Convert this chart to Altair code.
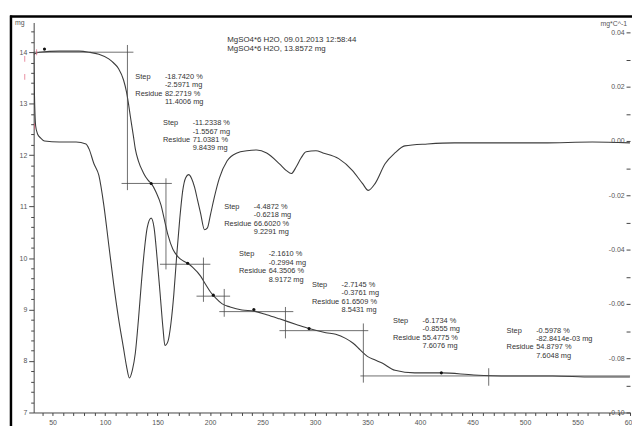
import altair as alt
import pandas as pd

# ---------------- data ----------------
# TG curve: mass (mg) against temperature (deg C)
tg_temp = [32.0, 37.6, 56.4, 75.2, 84.7, 94.1, 103.5, 108.2, 112.9, 117.6, 120.4, 122.3, 124.1, 127.0,
           128.8, 131.7, 136.4, 141.1, 143.9, 148.6, 153.3, 157.0, 159.9, 164.6, 169.3, 174.0, 178.7,
           183.5, 191.0, 195.7, 200.4, 205.0, 211.6, 219.1, 230.4, 241.7, 253.9, 266.1, 282.1, 294.3,
           310.3, 319.7, 329.1, 336.6, 343.2, 349.8, 357.3, 363.9, 376.1, 394.9, 420.3, 451.3, 488.9,
           526.5, 564.2, 599.9]
tg_mass = [13.96, 14.00, 14.02, 14.02, 14.00, 13.96, 13.87, 13.79, 13.68, 13.46, 13.23, 13.00, 12.75,
           12.37, 12.12, 11.89, 11.66, 11.51, 11.45, 11.28, 11.03, 10.70, 10.45, 10.17, 10.03, 9.95,
           9.90, 9.82, 9.65, 9.49, 9.34, 9.23, 9.11, 9.05, 8.99, 8.97, 8.90, 8.82, 8.71, 8.63, 8.55,
           8.52, 8.44, 8.34, 8.21, 8.09, 8.02, 7.96, 7.82, 7.77, 7.77, 7.73, 7.71, 7.71, 7.69, 7.69]

# DTG curve: mg/deg C against temperature
dtg_temp = [32.0, 32.9, 33.9, 35.8, 38.6, 42.3, 56.4, 72.4, 81.8, 84.7, 89.4, 94.1, 98.8, 103.5, 108.2,
            112.9, 117.6, 120.4, 123.2, 126.0, 128.8, 131.7, 134.5, 137.3, 140.1, 143.9, 146.7, 149.5,
            152.3, 155.2, 157.0, 159.9, 162.7, 165.5, 168.3, 171.2, 174.0, 176.8, 179.6, 182.4, 185.3,
            188.1, 190.9, 194.7, 197.5, 200.3, 204.1, 208.8, 216.3, 225.7, 235.1, 244.5, 253.9, 266.1,
            272.7, 277.4, 282.1, 286.8, 291.5, 300.9, 307.5, 322.5, 335.7, 345.1, 350.7, 357.3, 366.7,
            376.1, 385.5, 407.1, 432.7, 470.1, 517.1, 564.2, 599.9]
dtg_rate = [0.0327, 0.0145, 0.0055, 0.0025, 0.0011, 0.0000, -0.0004, -0.0004, -0.0011, -0.0029, -0.0084,
            -0.0127, -0.0236, -0.0382, -0.0527, -0.0655, -0.0764, -0.0829, -0.0873, -0.0844, -0.0782,
            -0.0662, -0.0527, -0.0407, -0.0320, -0.0284, -0.0320, -0.0429, -0.0556, -0.0691, -0.0753,
            -0.0738, -0.0673, -0.0564, -0.0418, -0.0284, -0.0182, -0.0135, -0.0124, -0.0138, -0.0171,
            -0.0218, -0.0265, -0.0327, -0.0320, -0.0273, -0.0207, -0.0138, -0.0073, -0.0044, -0.0036,
            -0.0033, -0.0044, -0.0084, -0.0109, -0.0120, -0.0095, -0.0062, -0.0040, -0.0036, -0.0044,
            -0.0065, -0.0109, -0.0156, -0.0182, -0.0156, -0.0084, -0.0044, -0.0018, -0.0011, -0.0007,
            -0.0007, -0.0007, -0.0004, -0.0007]

# step evaluation construction lines (temperature, mg)
seg_t1 = [32.0, 121.3, 115.7, 158.0, 152.3, 193.7, 187.1, 213.5, 208.8, 271.8, 266.1, 346.0, 343.2, 465.4]
seg_m1 = [14.00, 14.14, 11.45, 11.55, 9.88, 10.01, 9.26, 9.40, 8.96, 9.05, 8.59, 8.73, 7.71, 7.86]
seg_t2 = [127.0, 121.3, 163.6, 158.0, 200.3, 193.7, 219.1, 213.5, 279.3, 271.8, 350.7, 346.0, 600.0, 465.4]
seg_m2 = [14.00, 11.32, 11.45, 9.78, 9.88, 9.15, 9.26, 8.86, 8.96, 8.44, 8.59, 7.58, 7.71, 7.52]

# step mid-point markers on the TG curve
mark_temp = [42.3, 143.9, 178.7, 203.1, 241.7, 294.3, 420.3]
mark_mass = [14.06, 11.45, 9.90, 9.28, 9.00, 8.63, 7.77]

# red start markers of the two curves
start_temp = [23.5, 23.5, 34.8, 32.9]
start_mass = [13.87, 13.52, 14.00, 12.56]

# step results
step_pct = ["-18.7420 %", "-11.2338 %", "-4.4872 %", "-2.1610 %", "-2.7145 %", "-6.1734 %", "-0.5978 %"]
step_mg = ["-2.5971 mg", "-1.5567 mg", "-0.6218 mg", "-0.2994 mg", "-0.3761 mg", "-0.8555 mg",
           "-82.8414e-03 mg"]
res_pct = ["82.2719 %", "71.0381 %", "66.6020 %", "64.3506 %", "61.6509 %", "55.4775 %", "54.8797 %"]
res_mg = ["11.4006 mg", "9.8439 mg", "9.2291 mg", "8.9172 mg", "8.5431 mg", "7.6076 mg", "7.6048 mg"]

header = "MgSO4*6 H2O, 09.01.2013 12:58:44\nMgSO4*6 H2O, 13.8572 mg"
x_ticks = list(range(40, 601, 10))
mg_ticks = [round(7 + 0.2 * i, 1) for i in range(38)]
dtg_ticks = [i / 100 for i in range(-10, 5)]

# ---------------- layout ----------------
# anchor of each result block (temperature, mg) and value-column gap (deg C)
blk_temp = [128.8, 155.2, 213.5, 227.6, 297.1, 374.2, 482.4]
blk_mass = [13.52, 12.62, 10.99, 10.07, 9.475, 8.78, 8.59]
GAP = 28.2
LINE = 0.163  # one text line in mg units

rows = []
for i in range(7):
    lines = [("Step", step_pct[i]), ("", step_mg[i]), ("Residue", res_pct[i]), ("", res_mg[i])]
    for j, (lab, val) in enumerate(lines):
        m = blk_mass[i] - j * LINE
        if lab:
            rows.append({"T": blk_temp[i], "mg": m, "txt": lab})
        rows.append({"T": blk_temp[i] + GAP, "mg": m, "txt": val})
txt_df = pd.DataFrame(rows)

tg_df = pd.DataFrame({"T": tg_temp, "mg": tg_mass})
dtg_df = pd.DataFrame({"T": dtg_temp, "D": dtg_rate})
seg_df = pd.DataFrame({"t1": seg_t1, "m1": seg_m1, "t2": seg_t2, "m2": seg_m2})
mark_df = pd.DataFrame({"T": mark_temp, "mg": mark_mass})
start_df = pd.DataFrame({"T": start_temp, "mg": start_mass})

CURVE = "#3c3c3c"
AX = "#444444"
LAB = "#555555"
FONT = "Liberation Sans"

x_scale = alt.Scale(domain=[32, 600], nice=False, zero=False)
mg_scale = alt.Scale(domain=[7, 14.577], nice=False, zero=False)
d_scale = alt.Scale(domain=[-0.10, 0.04364], nice=False, zero=False)

x_axis = alt.Axis(values=x_ticks, labelExpr="datum.value % 50 == 0 ? format(datum.value, 'd') : ''",
                  tickSize=3, labelFontSize=7, labelColor=LAB, labelFont=FONT, domainColor=AX,
                  tickColor=AX, labelPadding=3, grid=False, title=None, labelFlush=False,
                  labelOverlap=False, labelBound=False)
major = "abs(datum.value - round(datum.value)) < 0.01"
mg_axis = alt.Axis(values=mg_ticks, labelExpr=major + " ? format(datum.value, 'd') : ''",
                   tickSize={"condition": {"test": major, "value": 5}, "value": 3},
                   labelFontSize=7, labelColor=LAB, labelFont=FONT, domainColor=AX, tickColor=AX,
                   labelPadding=2, grid=False, title=None, labelOverlap=False, labelBound=False)
d_axis = alt.Axis(values=dtg_ticks, orient="right", offset=-4, domain=False,
                  labelExpr="abs(round(datum.value * 100)) % 2 == 0 ? replace(format(datum.value, '.2f'), '\u2212', '-') : ''",
                  tickSize=4, labelAlign="right", labelPadding=-6, labelFontSize=7, labelColor=LAB,
                  labelFont=FONT, tickColor=AX, grid=False, title=None, labelOverlap=False,
                  labelBound=False)

X = alt.X("T:Q", scale=x_scale, axis=x_axis)
Ymg = alt.Y("mg:Q", scale=mg_scale, axis=mg_axis)

tg_line = alt.Chart(tg_df).mark_line(color=CURVE, strokeWidth=1.1, interpolate="monotone", clip=True).encode(
    x=X, y=Ymg)
segs = alt.Chart(seg_df).mark_rule(color="#4a4a4a", strokeWidth=0.8).encode(
    x=alt.X("t1:Q", scale=x_scale, axis=x_axis), x2="t2:Q",
    y=alt.Y("m1:Q", scale=mg_scale, axis=mg_axis), y2="m2:Q")
dots = alt.Chart(mark_df).mark_point(filled=True, size=10, color="#111", opacity=1).encode(x=X, y=Ymg)
starts = alt.Chart(start_df).mark_tick(color="#e0607a", thickness=1, size=6, orient="vertical").encode(
    x=X, y=Ymg)
texts = alt.Chart(txt_df).mark_text(align="left", baseline="middle", fontSize=7.5, font=FONT,
                                    color="#333").encode(x=X, y=Ymg, text="txt:N")
tg_layer = alt.layer(tg_line, segs, dots, starts, texts)

dtg_line = alt.Chart(dtg_df).mark_line(color=CURVE, strokeWidth=1.1, interpolate="monotone", clip=True).encode(
    x=X, y=alt.Y("D:Q", scale=d_scale, axis=d_axis))

head = alt.Chart(pd.DataFrame({"txt": [header]})).mark_text(
    align="left", baseline="middle", fontSize=8, font=FONT, color="#333", lineBreak="\n",
    lineHeight=9).encode(x=alt.value(196), y=alt.value(18), text="txt:N")
unit_l = alt.Chart(pd.DataFrame({"txt": ["mg"]})).mark_text(
    align="center", baseline="middle", fontSize=7, font=FONT, color=LAB).encode(
    x=alt.value(-14), y=alt.value(1), text="txt:N")
unit_r = alt.Chart(pd.DataFrame({"txt": ["mg*C^-1"]})).mark_text(
    align="right", baseline="middle", fontSize=7, font=FONT, color=LAB).encode(
    x=alt.value(601), y=alt.value(2), text="txt:N")
frame_top = alt.Chart(pd.DataFrame({"a": [0]})).mark_rule(color="#000", strokeWidth=2.5).encode(
    x=alt.value(-24), x2=alt.value(610), y=alt.value(-6))
frame_left = alt.Chart(pd.DataFrame({"a": [0]})).mark_rule(color="#000", strokeWidth=2.5).encode(
    x=alt.value(-23), y=alt.value(-7), y2=alt.value(410))

chart = alt.layer(tg_layer, dtg_line, head, unit_l, unit_r, frame_top, frame_left).resolve_scale(
    y="independent").properties(
    width=604, height=395,
    padding={"left": 26, "top": 12, "right": 2, "bottom": 11},
    autosize=alt.AutoSizeParams(type="none"),
    background="white").configure_view(strokeWidth=0)

chart.save("out.html", embed_options={"renderer": "svg", "actions": False})
